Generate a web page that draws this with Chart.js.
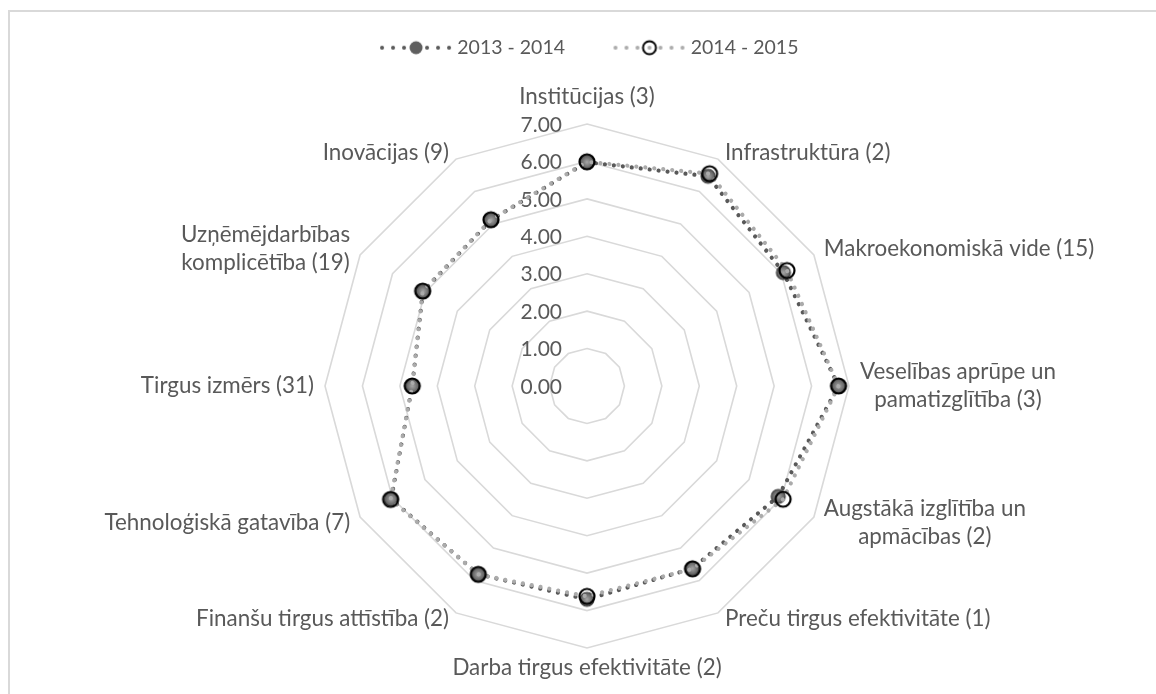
<!DOCTYPE html>
<html><head><meta charset="utf-8">
<script src="https://cdn.jsdelivr.net/npm/chart.js@4"></script>
<style>
html,body{margin:0;padding:0;background:#fff;}
#wrap{position:relative;width:1156px;height:694px;overflow:hidden;}
#frame{position:absolute;left:8px;top:10px;width:1200px;height:800px;border-top:2px solid #d9d9d9;border-left:2px solid #d9d9d9;}
canvas{position:absolute;left:0;top:0;}
</style></head><body>
<div id="wrap"><div id="frame"></div><canvas id="c" width="1156" height="694"></canvas></div>
<script>
const categories = [
  'Institūcijas (3)',
  'Infrastruktūra (2)',
  'Makroekonomiskā vide (15)',
  ['Veselības aprūpe un', 'pamatizglītība (3)'],
  ['Augstākā izglītība un', 'apmācības (2)'],
  'Preču tirgus efektivitāte (1)',
  'Darba tirgus efektivitāte (2)',
  'Finanšu tirgus attīstība (2)',
  'Tehnoloģiskā gatavība (7)',
  'Tirgus izmērs (31)',
  ['Uzņēmējdarbības', 'komplicētība (19)'],
  'Inovācijas (9)'
];
const seriesNames = ['2013 - 2014', '2014 - 2015'];
const values2013 = [5.98, 6.47, 6.06, 6.72, 5.90, 5.63, 5.70, 5.81, 6.04, 4.67, 5.06, 5.12];
const values2014 = [5.99, 6.55, 6.17, 6.72, 6.05, 5.64, 5.62, 5.81, 6.06, 4.67, 5.07, 5.13];
const tickValues = [0, 1, 2, 3, 4, 5, 6, 7];

const TEXT = '#595959';
const DARK = '#595959';
const LIGHT = '#ababab';

function makeDarkMarker() {
  const c = document.createElement('canvas'); c.width = 18; c.height = 18;
  const g = c.getContext('2d');
  const grad = g.createRadialGradient(9, 9, 0, 9, 9, 7);
  grad.addColorStop(0, '#a8a8a8'); grad.addColorStop(0.35, '#8a8a8a'); grad.addColorStop(1, '#555555');
  g.beginPath(); g.arc(9, 9, 7, 0, Math.PI * 2); g.fillStyle = grad; g.fill();
  g.lineWidth = 1.2; g.strokeStyle = '#3f3f3f'; g.stroke();
  return c;
}
function makeLightMarker() {
  const c = document.createElement('canvas'); c.width = 20; c.height = 20;
  const g = c.getContext('2d');
  g.beginPath(); g.arc(10, 10, 7.5, 0, Math.PI * 2); g.lineWidth = 2.2; g.strokeStyle = '#000'; g.stroke();
  return c;
}
const BOXW = 106;
function makeLegendMarker(dark) {
  const c = document.createElement('canvas'); c.width = BOXW + 9; c.height = 18;
  const g = c.getContext('2d');
  const x0 = c.width - 72;
  const offs = [2, 13, 24, 47, 58, 69];
  g.fillStyle = dark ? DARK : LIGHT;
  offs.forEach(o => { g.beginPath(); g.arc(x0 + o, 9, 2, 0, Math.PI * 2); g.fill(); });
  const cx = x0 + 36;
  if (dark) {
    g.beginPath(); g.arc(cx, 9, 6.5, 0, Math.PI * 2); g.fillStyle = '#5f5f5f'; g.fill();
  } else {
    g.beginPath(); g.arc(cx, 9, 2, 0, Math.PI * 2); g.fillStyle = LIGHT; g.fill();
    g.beginPath(); g.arc(cx, 9, 6.5, 0, Math.PI * 2); g.lineWidth = 2; g.strokeStyle = '#000'; g.stroke();
  }
  return c;
}
const darkMarker = makeDarkMarker();
const lightMarker = makeLightMarker();
const legendMarkers = [makeLegendMarker(true), makeLegendMarker(false)];

const CENTER_X = 587, CENTER_Y = 386, RADIUS = 262;

const tickLabelPlugin = {
  id: 'tickLabels',
  beforeDatasetsDraw(chart) {
    const s = chart.scales.r; const ctx = chart.ctx;
    ctx.save();
    ctx.font = '21px Lato'; ctx.fillStyle = TEXT; ctx.textAlign = 'right'; ctx.textBaseline = 'middle';
    tickValues.forEach(v => {
      const d = s.getDistanceFromCenterForValue(v);
      ctx.fillText(v.toFixed(2), s.xCenter - 25, s.yCenter - d + 1);
    });
    ctx.restore();
  }
};

// Excel-like placement of category labels around the outer ring vertices
function placeLabels(scale) {
  const items = scale._pointLabelItems || [];
  const n = items.length;
  items.forEach((it, i) => {
    const w = it.right - it.left, h = it.bottom - it.top;
    const v = scale.getPointPosition(i, RADIUS);
    const a = (i * 2 * Math.PI) / n;
    const s = Math.sin(a), c = Math.cos(a);
    let cx, cy;
    if (Math.abs(s) < 1e-6) {
      cx = v.x;
      cy = c > 0 ? v.y - 27 : v.y + 20;
    } else {
      const hg = 3 + 8 * Math.abs(s);
      cx = s > 0 ? v.x + hg + w / 2 : v.x - hg - w / 2;
      cy = Math.abs(c) < 1e-6 ? v.y : v.y - 6 * Math.sign(c);
    }
    it.textAlign = 'center';
    it.x = cx; it.left = cx - w / 2; it.right = cx + w / 2;
    it.top = cy - h / 2; it.bottom = cy + h / 2; it.y = it.top;
    it.visible = true;
  });
}

new Chart(document.getElementById('c'), {
  type: 'radar',
  data: {
    labels: categories,
    datasets: [
      {
        label: seriesNames[0], data: values2013, order: 2,
        borderColor: DARK, borderWidth: 4.2, borderDash: [0.01, 9], borderCapStyle: 'round',
        fill: false, tension: 0,
        pointStyle: darkMarker, pointRadius: 7, backgroundColor: DARK
      },
      {
        label: seriesNames[1], data: values2014, order: 1,
        borderColor: LIGHT, borderWidth: 4.2, borderDash: [0.01, 9], borderDashOffset: 4.5, borderCapStyle: 'round',
        fill: false, tension: 0,
        pointStyle: lightMarker, pointRadius: 7, backgroundColor: 'rgba(0,0,0,0)'
      }
    ]
  },
  options: {
    responsive: false, animation: false, devicePixelRatio: 1,
    layout: { padding: { top: 28, left: 0, right: 16, bottom: 0 } },
    plugins: {
      tooltip: { enabled: false },
      legend: {
        position: 'top',
        labels: {
          usePointStyle: true, pointStyleWidth: BOXW, padding: 10,
          color: TEXT, font: { family: 'Lato', size: 19.5 },
          sort: (a, b) => a.datasetIndex - b.datasetIndex,
          generateLabels(chart) {
            const items = Chart.defaults.plugins.legend.labels.generateLabels(chart);
            items.forEach(it => { it.pointStyle = legendMarkers[it.datasetIndex]; });
            return items;
          }
        }
      }
    },
    scales: {
      r: {
        min: 0, max: 7,
        ticks: { stepSize: 1, display: false },
        grid: { color: '#d9d9d9', lineWidth: 1.6, circular: false },
        angleLines: { display: false },
        pointLabels: {
          color: TEXT, font: { family: 'Lato', size: 22.4, lineHeight: 1.27 },
          padding: 4
        },
        afterFit(scale) {
          scale.xCenter = CENTER_X; scale.yCenter = CENTER_Y; scale.drawingArea = RADIUS;
          placeLabels(scale);
        }
      }
    }
  },
  plugins: [tickLabelPlugin]
});
</script>
</body></html>
